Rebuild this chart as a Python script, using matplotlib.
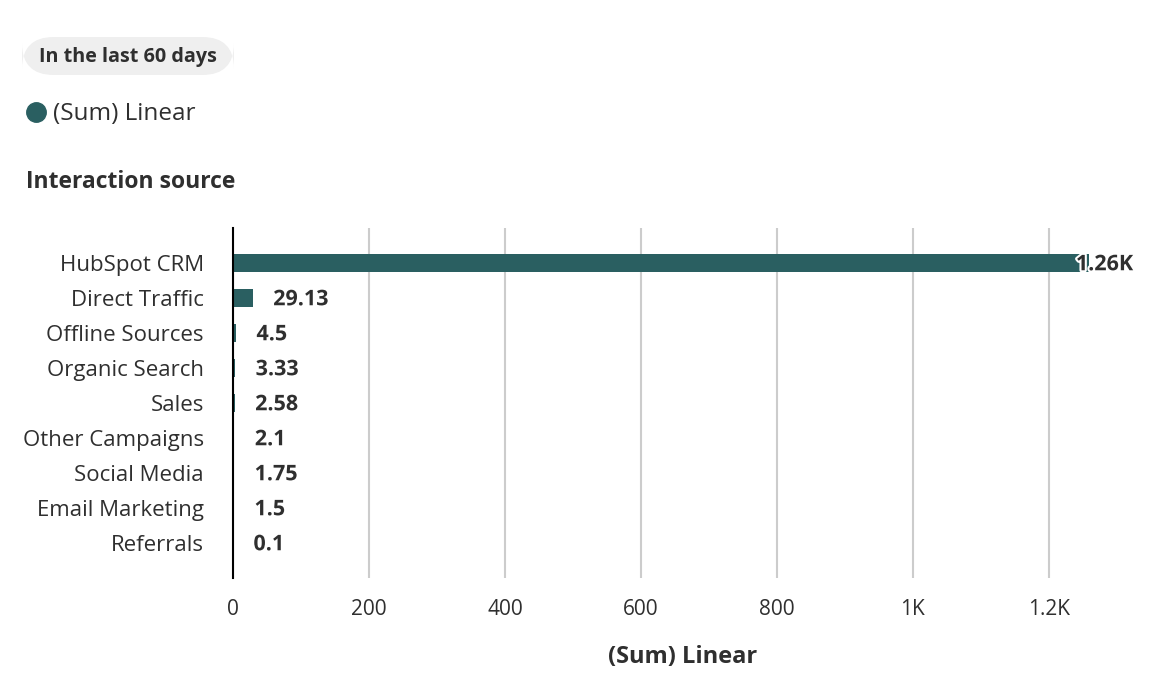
import numpy as np
import matplotlib
matplotlib.use("Agg")
import matplotlib.pyplot as plt
import matplotlib.patheffects as pe
from matplotlib.patches import FancyBboxPatch

# data
sources = ["HubSpot CRM", "Direct Traffic", "Offline Sources", "Organic Search",
           "Sales", "Other Campaigns", "Social Media", "Email Marketing", "Referrals"]
values = [1260, 29.13, 4.5, 3.33, 2.58, 2.1, 1.75, 1.5, 0.1]
value_labels = ["1.26K", "29.13", "4.5", "3.33", "2.58", "2.1", "1.75", "1.5", "0.1"]
ticks = [0, 200, 400, 600, 800, 1000, 1200]
tick_labels = ["0", "200", "400", "600", "800", "1K", "1.2K"]

bar_color = "#2a5f61"
text_color = "#2f2f2f"
plt.rcParams['font.family'] = ['Open Sans', 'DejaVu Sans']

fig = plt.figure(figsize=(11.72, 6.94), dpi=100)
W, H = 1172, 694
# axes: x=0 at px 233, top at 228, bottom at 578
ax = fig.add_axes([233 / W, 1 - 578 / H, (1133 - 233) / W, 350 / H])

xmax = 1324
y = np.arange(len(sources))
ax.barh(y, values, height=0.5, color=bar_color, zorder=3)
ax.set_ylim(len(sources), -1)
ax.set_xlim(0, xmax)

# value labels, the big one pinned to the right edge
for yi, v, lab in zip(y, values, value_labels):
    x_lab = v + 30
    ha = "left"
    if x_lab + 90 > xmax:
        x_lab, ha = xmax, "right"
    ax.text(x_lab, yi + 0.05, lab, va="center", ha=ha, fontsize=15.5, fontweight="bold",
            color=text_color, zorder=4,
            path_effects=[pe.withStroke(linewidth=3, foreground="white")])

ax.set_yticks(y)
ax.set_yticklabels(sources, fontsize=16, color=text_color)
ax.set_xticks(ticks)
ax.set_xticklabels(tick_labels, fontsize=15, color=text_color)
ax.tick_params(axis="both", length=0)
ax.tick_params(axis="y", pad=21)
ax.tick_params(axis="x", pad=15)
ax.grid(axis="x", color="#cccccc", linewidth=1.5, zorder=0)
for s in ["top", "right", "bottom"]:
    ax.spines[s].set_visible(False)
ax.spines["left"].set_color("black")
ax.spines["left"].set_linewidth(1.5)
ax.spines["left"].set_zorder(5)
ax.set_xlabel("(Sum) Linear", fontsize=17, fontweight="bold", color=text_color, labelpad=18)

# header: chip, legend, title
chip = FancyBboxPatch((22 / W, 1 - 75 / H), 212 / W, 38 / H,
                      boxstyle="round,pad=0,rounding_size=0.027",
                      transform=fig.transFigure, facecolor="#efefef", edgecolor="none",
                      mutation_aspect=W / H)
fig.patches.append(chip)
fig.text(128 / W, 1 - 57 / H, "In the last 60 days", ha="center", va="center",
         fontsize=14.2, fontweight="bold", color=text_color)
fig.add_artist(plt.Line2D([36 / W], [1 - 112 / H], marker="o", markersize=14,
                          color=bar_color, transform=fig.transFigure))
fig.text(53 / W, 1 - 114 / H, "(Sum) Linear", ha="left", va="center",
         fontsize=17.5, color=text_color)
fig.text(26 / W, 1 - 182 / H, "Interaction source", ha="left", va="center",
         fontsize=16.5, fontweight="bold", color=text_color)

fig.savefig("out.png", dpi=100)
